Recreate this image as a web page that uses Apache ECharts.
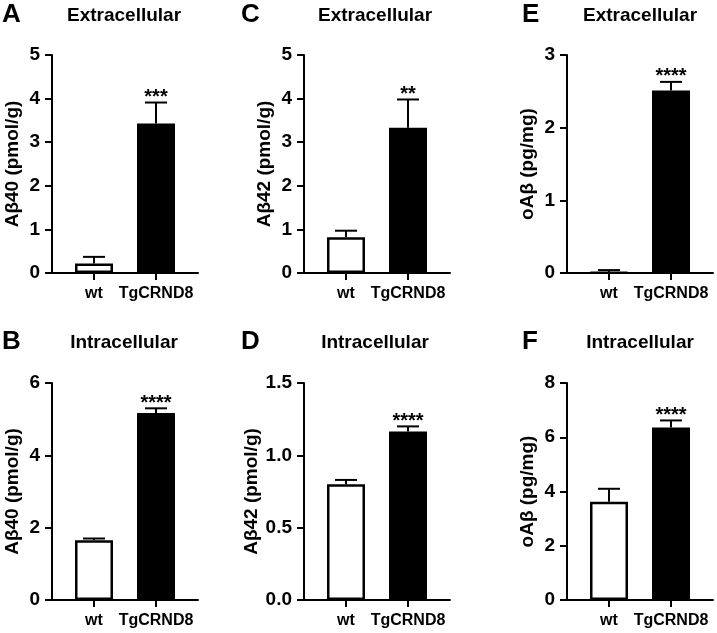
<!DOCTYPE html>
<html>
<head>
<meta charset="utf-8">
<script src="https://cdn.jsdelivr.net/npm/echarts@6/dist/echarts.min.js"></script>
<style>
html,body{margin:0;padding:0;background:#fff;}
#chart{width:717px;height:633px;}
</style>
</head>
<body>
<div id="chart"></div>
<script>
// ---- data ----
const categories = ['wt', 'TgCRND8'];
const panelLetters = ['A', 'B', 'C', 'D', 'E', 'F'];
const panelTitles = ['Extracellular', 'Intracellular', 'Extracellular', 'Intracellular', 'Extracellular', 'Intracellular'];
const yNames = ['A\u03b240 (pmol/g)', 'A\u03b240 (pmol/g)', 'A\u03b242 (pmol/g)', 'A\u03b242 (pmol/g)', 'oA\u03b2 (pg/mg)', 'oA\u03b2 (pg/mg)'];
const yMax = [5, 6, 5, 1.5, 3, 8];
const yInterval = [1, 2, 1, 0.5, 1, 2];
const yDecimals = [0, 0, 0, 1, 0, 0];
const meanA = [0.22, 3.43], errA = [0.15, 0.48];
const meanB = [1.65, 5.17], errB = [0.05, 0.13];
const meanC = [0.82, 3.33], errC = [0.15, 0.65];
const meanD = [0.80, 1.165], errD = [0.03, 0.035];
const meanE = [0.01, 2.51], errE = [0.03, 0.12];
const meanF = [3.62, 6.36], errF = [0.48, 0.26];
const stars = ['***', '****', '**', '****', '****', '****'];
const means = [meanA, meanB, meanC, meanD, meanE, meanF];
const errs = [errA, errB, errC, errD, errE, errF];

// ---- layout ----
const FONT = '"Liberation Sans", Arial, sans-serif';
const colLeft = [52, 304, 567];
const rowTop = [55, 383];
const rowH = [218, 217];
const gridW = 146;
const sideMargin = 42, barSpacing = 62;
const xMin = 1 - sideMargin / barSpacing;
const xMax = 2 + sideMargin / barSpacing;

const grids = [], xAxes = [], yAxes = [], series = [], graphics = [];
for (let i = 0; i < 6; i++) {
  const col = Math.floor(i / 2), row = i % 2;
  grids.push({left: colLeft[col], top: rowTop[row], width: gridW, height: rowH[row]});
  xAxes.push({
    type: 'value', gridIndex: i, min: xMin, max: xMax,
    splitLine: {show: false},
    axisLine: {show: true, onZero: false, lineStyle: {color: '#000', width: 2}},
    axisTick: {show: true, customValues: [1, 2], length: 7, lineStyle: {color: '#000', width: 2}},
    axisLabel: {show: true, customValues: [1, 2], margin: 13,
      formatter: v => categories[Math.round(v) - 1] || '',
      color: '#000', fontFamily: FONT, fontWeight: 'bold', fontSize: 16}
  });
  yAxes.push({
    type: 'value', gridIndex: i, min: 0, max: yMax[i], interval: yInterval[i],
    splitLine: {show: false},
    axisLine: {show: true, onZero: false, lineStyle: {color: '#000', width: 2}},
    axisTick: {show: true, length: 7, lineStyle: {color: '#000', width: 2}},
    axisLabel: {margin: 12, color: '#000', fontFamily: FONT, fontWeight: 'bold', fontSize: 19,
      formatter: v => Number(v).toFixed(yDecimals[i])},
    name: yNames[i], nameLocation: 'middle', nameGap: 30,
    nameTextStyle: {color: '#000', fontFamily: FONT, fontWeight: 'bold', fontSize: 19}
  });
  series.push({
    type: 'bar', xAxisIndex: i, yAxisIndex: i, barWidth: 38,
    data: means[i].map((v, k) => ({
      value: [k + 1, v],
      itemStyle: {color: k === 0 ? '#fff' : '#000', borderColor: '#000', borderWidth: 2.5}
    })),
    z: 2, silent: true
  });
  series.push({
    type: 'custom', xAxisIndex: i, yAxisIndex: i, z: 3, silent: true,
    data: means[i].map((v, k) => [k + 1, v, errs[i][k]]),
    renderItem: (params, api) => {
      const base = api.coord([api.value(0), api.value(1)]);
      const top = api.coord([api.value(0), api.value(1) + api.value(2)]);
      return {type: 'group', children: [
        {type: 'line', shape: {x1: base[0], y1: base[1], x2: top[0], y2: top[1]}, style: {stroke: '#000', lineWidth: 2}},
        {type: 'line', shape: {x1: top[0] - 11, y1: top[1], x2: top[0] + 11, y2: top[1]}, style: {stroke: '#000', lineWidth: 2}}
      ]};
    }
  });
  series.push({
    type: 'custom', xAxisIndex: i, yAxisIndex: i, z: 3, silent: true,
    data: [[2, means[i][1] + errs[i][1]]],
    renderItem: (params, api) => {
      const p = api.coord([api.value(0), api.value(1)]);
      return {type: 'text', x: p[0], y: p[1] - 5,
        style: {text: stars[i], fill: '#000', font: 'bold 20px ' + FONT, textAlign: 'center', textVerticalAlign: 'middle'}};
    }
  });
  const titleY = row === 0 ? 16 : 343;
  graphics.push({type: 'text', x: [124, 375, 640][col], y: titleY,
    style: {text: panelTitles[i], fill: '#000', font: 'bold 19px ' + FONT, textAlign: 'center', textVerticalAlign: 'middle'}});
  graphics.push({type: 'text', x: [2, 241, 522][col], y: titleY - 1,
    style: {text: panelLetters[i], fill: '#000', font: 'bold 26px ' + FONT, textAlign: 'left', textVerticalAlign: 'middle'}});
}

const chart = echarts.init(document.getElementById('chart'), null, {renderer: 'canvas'});
chart.setOption({
  animation: false,
  backgroundColor: '#fff',
  grid: grids, xAxis: xAxes, yAxis: yAxes, series: series,
  graphic: graphics
});
</script>
</body>
</html>
